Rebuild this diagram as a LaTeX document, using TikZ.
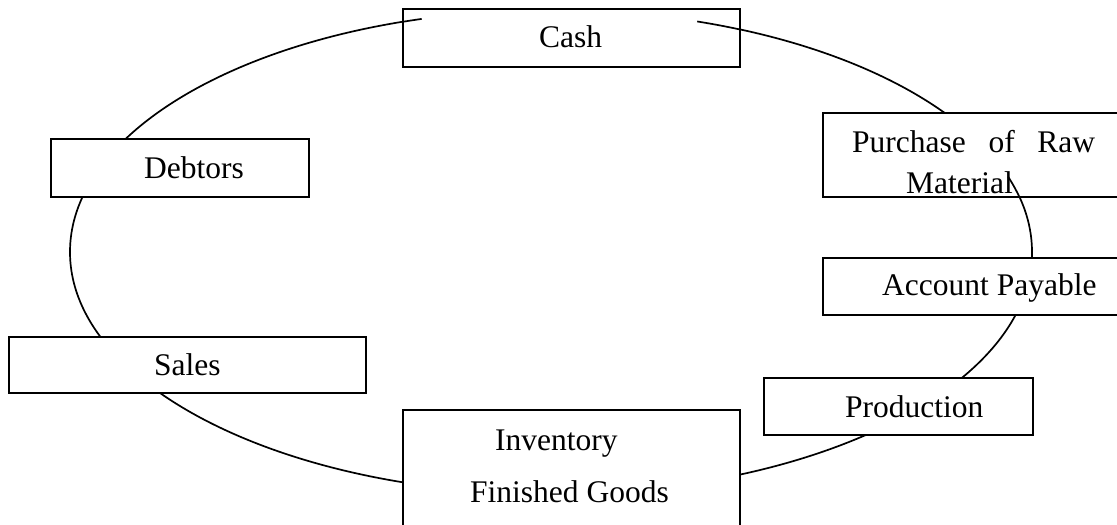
\documentclass[tikz,border=0pt]{standalone}
\usepackage{fontspec}
\setmainfont{Liberation Serif}
\begin{document}
\begin{tikzpicture}[x=1pt,y=-1pt,
  box/.style={draw, fill=white, line width=1.8pt, inner sep=0pt},
  lbl/.style={anchor=base west, inner sep=0pt, font=\fontsize{31.5}{38}\selectfont},
  cyc/.style={line width=1.7pt}]
\useasboundingbox (0,0) rectangle (1117,525);
\clip (0,0) rectangle (1117,525);

% the working capital cycle
\draw[cyc] (551,252) ellipse [x radius=481, y radius=242];

% stages of the cycle
\node[box, minimum width=337pt, minimum height=58pt]  (cash)       at (571.5,38)   {};
\node[box, minimum width=258pt, minimum height=58pt]  (debtors)    at (180,168)    {};
\node[box, minimum width=317pt, minimum height=84pt]  (purchase)   at (981.5,155)  {};
\node[box, minimum width=317pt, minimum height=57pt]  (payable)    at (981.5,286.5){};
\node[box, minimum width=357pt, minimum height=56pt]  (sales)      at (187.5,365)  {};
\node[box, minimum width=269pt, minimum height=57pt]  (production) at (898.5,406.5){};
\node[box, minimum width=337pt, minimum height=150pt] (inventory)  at (571.5,485)  {};

% texts
\node[lbl] (cashT)      at (539,47)  {Cash};
\node[lbl] (debtorsT)   at (144,178) {Debtors};
\node[lbl] (purchaseT)  at (852,152) {\makebox[243pt][s]{Purchase\hfill of\hfill Raw}};
\node[lbl] (materialT)  at (906,193) {Material};
\node[lbl] (payableT)   at (882,295) {Account Payable};
\node[lbl] (salesT)     at (154,375) {Sales};
\node[lbl] (productionT) at (845,417) {Production};
\node[lbl] (inventoryT) at (495,450) {Inventory};
\node[lbl] (finishedT)  at (470,502) {Finished Goods};

% short pieces of the cycle line running over the boxes
\draw[cyc] plot[domain=105.6:107.9, samples=8] ({551+481*cos(\x)},{252-242*sin(\x)});
\draw[cyc] plot[domain=66.9:72.3, samples=8] ({551+481*cos(\x)},{252-242*sin(\x)});
\draw[cyc] plot[domain=13.1:18.1, samples=8] ({551+481*cos(\x)},{252-242*sin(\x)});
\end{tikzpicture}
\end{document}
